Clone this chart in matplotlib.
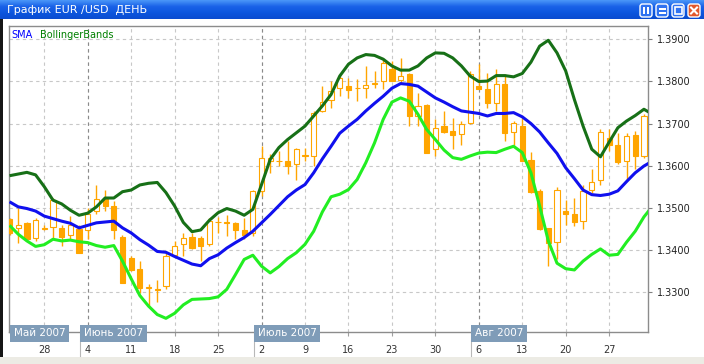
import numpy as np
import pandas as pd
import matplotlib
matplotlib.use("Agg")
import matplotlib.pyplot as plt
from matplotlib.patches import Rectangle, FancyBboxPatch
from matplotlib.colors import LinearSegmentedColormap
from matplotlib.ticker import FormatStrFormatter
from matplotlib.transforms import blended_transform_factory

# EUR/USD daily candles, 22 May - 31 Aug 2007
opens = [1.3472, 1.3452, 1.3464, 1.3429, 1.3450, 1.3455, 1.3452, 1.3434, 1.3450, 1.3448,
         1.3492, 1.3521, 1.3505, 1.3431, 1.3381, 1.3355, 1.3310, 1.3306, 1.3314, 1.3387,
         1.3413, 1.3430, 1.3428, 1.3413, 1.3466, 1.3465, 1.3463, 1.3448, 1.3440, 1.3540,
         1.3611, 1.3612, 1.3612, 1.3603, 1.3624, 1.3624, 1.3730, 1.3757, 1.3784, 1.3789,
         1.3785, 1.3784, 1.3795, 1.3801, 1.3829, 1.3803, 1.3817, 1.3719, 1.3744, 1.3640,
         1.3694, 1.3682, 1.3674, 1.3702, 1.3789, 1.3783, 1.3749, 1.3795, 1.3680, 1.3694,
         1.3613, 1.3540, 1.3452, 1.3418, 1.3492, 1.3484, 1.3468, 1.3543, 1.3566, 1.3666,
         1.3649, 1.3611, 1.3673, 1.3624]
highs = [1.3476, 1.3500, 1.3466, 1.3476, 1.3458, 1.3524, 1.3458, 1.3480, 1.3458, 1.3500,
         1.3555, 1.3543, 1.3516, 1.3436, 1.3385, 1.3373, 1.3318, 1.3328, 1.3393, 1.3421,
         1.3440, 1.3439, 1.3433, 1.3476, 1.3478, 1.3482, 1.3466, 1.3476, 1.3543, 1.3646,
         1.3627, 1.3635, 1.3658, 1.3643, 1.3643, 1.3730, 1.3789, 1.3801, 1.3813, 1.3809,
         1.3805, 1.3837, 1.3825, 1.3853, 1.3849, 1.3856, 1.3821, 1.3773, 1.3746, 1.3710,
         1.3730, 1.3714, 1.3706, 1.3825, 1.3841, 1.3821, 1.3829, 1.3817, 1.3707, 1.3714,
         1.3632, 1.3545, 1.3452, 1.3549, 1.3518, 1.3524, 1.3555, 1.3593, 1.3686, 1.3686,
         1.3678, 1.3678, 1.3682, 1.3722]
lows = [1.3436, 1.3417, 1.3425, 1.3421, 1.3447, 1.3425, 1.3409, 1.3425, 1.3393, 1.3425,
        1.3484, 1.3492, 1.3425, 1.3322, 1.3350, 1.3298, 1.3266, 1.3276, 1.3306, 1.3385,
        1.3385, 1.3402, 1.3373, 1.3409, 1.3440, 1.3433, 1.3425, 1.3425, 1.3433, 1.3528,
        1.3583, 1.3600, 1.3579, 1.3567, 1.3611, 1.3599, 1.3727, 1.3738, 1.3765, 1.3761,
        1.3753, 1.3761, 1.3785, 1.3781, 1.3800, 1.3793, 1.3694, 1.3694, 1.3631, 1.3623,
        1.3678, 1.3639, 1.3650, 1.3698, 1.3781, 1.3738, 1.3730, 1.3658, 1.3650, 1.3611,
        1.3536, 1.3448, 1.3361, 1.3377, 1.3460, 1.3456, 1.3450, 1.3536, 1.3555, 1.3635,
        1.3603, 1.3567, 1.3591, 1.3619]
closes = [1.3440, 1.3460, 1.3426, 1.3470, 1.3451, 1.3518, 1.3431, 1.3458, 1.3393, 1.3484,
          1.3520, 1.3504, 1.3448, 1.3322, 1.3353, 1.3310, 1.3311, 1.3305, 1.3385, 1.3409,
          1.3428, 1.3405, 1.3410, 1.3468, 1.3465, 1.3464, 1.3448, 1.3436, 1.3540, 1.3619,
          1.3619, 1.3611, 1.3600, 1.3639, 1.3625, 1.3726, 1.3751, 1.3777, 1.3809, 1.3780,
          1.3785, 1.3791, 1.3796, 1.3843, 1.3801, 1.3814, 1.3718, 1.3742, 1.3631, 1.3690,
          1.3681, 1.3672, 1.3698, 1.3817, 1.3783, 1.3748, 1.3793, 1.3677, 1.3702, 1.3612,
          1.3538, 1.3450, 1.3417, 1.3541, 1.3484, 1.3466, 1.3540, 1.3561, 1.3680, 1.3648,
          1.3608, 1.3670, 1.3623, 1.3718]

# indicators: one point more than candles, the last one is cut by the frame
bb_upper = [1.3576, 1.3580, 1.3584, 1.3578, 1.3550, 1.3518, 1.3509, 1.3494, 1.3482, 1.3487,
            1.3502, 1.3523, 1.3523, 1.3538, 1.3542, 1.3554, 1.3558, 1.3560, 1.3536, 1.3504,
            1.3465, 1.3443, 1.3447, 1.3470, 1.3488, 1.3498, 1.3492, 1.3482, 1.3496, 1.3555,
            1.3615, 1.3643, 1.3662, 1.3678, 1.3694, 1.3718, 1.3742, 1.3769, 1.3813, 1.3841,
            1.3856, 1.3864, 1.3862, 1.3853, 1.3837, 1.3827, 1.3827, 1.3837, 1.3856, 1.3868,
            1.3867, 1.3856, 1.3837, 1.3813, 1.3800, 1.3801, 1.3814, 1.3814, 1.3811, 1.3819,
            1.3846, 1.3884, 1.3898, 1.3868, 1.3825, 1.3757, 1.3694, 1.3639, 1.3621, 1.3656,
            1.3690, 1.3706, 1.3719, 1.3734, 1.3722]
sma = [1.3514, 1.3502, 1.3498, 1.3492, 1.3480, 1.3474, 1.3468, 1.3463, 1.3452, 1.3458,
       1.3464, 1.3466, 1.3468, 1.3452, 1.3440, 1.3424, 1.3411, 1.3396, 1.3394, 1.3384,
       1.3375, 1.3366, 1.3362, 1.3379, 1.3388, 1.3404, 1.3417, 1.3429, 1.3444, 1.3464,
       1.3484, 1.3505, 1.3526, 1.3542, 1.3555, 1.3583, 1.3616, 1.3646, 1.3677, 1.3694,
       1.3710, 1.3730, 1.3748, 1.3765, 1.3784, 1.3795, 1.3793, 1.3789, 1.3775, 1.3761,
       1.3751, 1.3740, 1.3730, 1.3727, 1.3724, 1.3718, 1.3724, 1.3724, 1.3726, 1.3716,
       1.3700, 1.3680, 1.3654, 1.3629, 1.3595, 1.3569, 1.3542, 1.3531, 1.3529, 1.3532,
       1.3540, 1.3562, 1.3583, 1.3599, 1.3611]
bb_lower = [1.3458, 1.3437, 1.3421, 1.3408, 1.3412, 1.3425, 1.3421, 1.3423, 1.3419, 1.3417,
            1.3410, 1.3406, 1.3410, 1.3373, 1.3331, 1.3291, 1.3266, 1.3246, 1.3237, 1.3249,
            1.3269, 1.3282, 1.3283, 1.3284, 1.3288, 1.3306, 1.3341, 1.3377, 1.3387, 1.3361,
            1.3345, 1.3360, 1.3379, 1.3393, 1.3413, 1.3444, 1.3490, 1.3526, 1.3532, 1.3543,
            1.3567, 1.3607, 1.3654, 1.3710, 1.3751, 1.3761, 1.3753, 1.3722, 1.3686, 1.3662,
            1.3637, 1.3619, 1.3615, 1.3623, 1.3630, 1.3632, 1.3631, 1.3639, 1.3646, 1.3631,
            1.3583, 1.3504, 1.3421, 1.3368, 1.3355, 1.3352, 1.3373, 1.3389, 1.3402, 1.3387,
            1.3389, 1.3418, 1.3444, 1.3478, 1.3504]

price_ticks = [1.33, 1.34, 1.35, 1.36, 1.37, 1.38, 1.39]
month_names = {5: "Май 2007", 6: "Июнь 2007", 7: "Июль 2007", 8: "Авг 2007"}
title = "График EUR /USD  ДЕНЬ"

W, H = 704, 364
ORANGE = "#ffa500"

fig = plt.figure(figsize=(W / 100, H / 100), dpi=100)
fig.patch.set_facecolor("white")

# window chrome, drawn in pixel coords
bg = fig.add_axes([0, 0, 1, 1], zorder=-1)
bg.set_xlim(0, W)
bg.set_ylim(H, 0)
bg.axis("off")
bar_cmap = LinearSegmentedColormap.from_list("xp", ["#4a96f8", "#1a62e8", "#0c56de", "#0a4cd0"])
bg.imshow(np.linspace(0, 1, 40)[:, None], extent=[0, W, 19, 0], cmap=bar_cmap, aspect="auto")
bg.text(7, 9.5, title, color="white", fontsize=8, va="center", ha="left")
for k, bx in enumerate([640, 656, 672, 688]):
    face = "#e2582c" if k == 3 else "#2f72f0"
    bg.add_patch(FancyBboxPatch((bx, 4), 12, 13, boxstyle="round,pad=0,rounding_size=2.5",
                                fc=face, ec="white", lw=1))
    cx, cy = bx + 6, 10.5
    if k == 0:
        bg.add_patch(Rectangle((cx - 3, cy - 3.5), 2, 7, fc="white", ec="none"))
        bg.add_patch(Rectangle((cx + 1, cy - 3.5), 2, 7, fc="white", ec="none"))
    elif k == 1:
        bg.add_patch(Rectangle((cx - 3.5, cy - 3), 7, 2, fc="white", ec="none"))
        bg.add_patch(Rectangle((cx - 3.5, cy + 1), 7, 2, fc="white", ec="none"))
    elif k == 2:
        bg.add_patch(Rectangle((cx - 3.5, cy - 3.5), 7, 7, fc="none", ec="white", lw=1.2))
    else:
        bg.plot([cx - 3, cx + 3], [cy - 3, cy + 3], color="white", lw=1.5)
        bg.plot([cx - 3, cx + 3], [cy + 3, cy - 3], color="white", lw=1.5)
bg.add_patch(Rectangle((0, 19), 2.5, 338, fc="#151515", ec="none"))
bg.add_patch(Rectangle((0, 357), W, 7, fc="#ecebe4", ec="none"))

# chart
ax = fig.add_axes([9 / W, (H - 332) / H, (648 - 9) / W, (332 - 26) / H])
x = np.arange(len(opens))
xi = np.arange(len(sma))
o, h, l, c = map(np.array, (opens, highs, lows, closes))
up = c >= o
body_lo = np.minimum(o, c)
body_h = np.abs(c - o)

ax.vlines(x, l, h, color=ORANGE, lw=1, zorder=2)
ax.bar(x[~up], body_h[~up], bottom=body_lo[~up], width=0.6, color=ORANGE,
       edgecolor=ORANGE, lw=0.8, zorder=3)
ax.bar(x[up], body_h[up], bottom=body_lo[up], width=0.6, facecolor="white",
       edgecolor=ORANGE, lw=0.8, zorder=3)

ax.plot(xi, bb_upper, color="#177017", lw=2.2, zorder=4, solid_capstyle="butt")
ax.plot(xi, sma, color="#1010ee", lw=2.2, zorder=4, solid_capstyle="butt")
ax.plot(xi, bb_lower, color="#22ee22", lw=2.2, zorder=4, solid_capstyle="butt")

ax.set_xlim(-0.06, 73.47)
ax.set_ylim(1.32045, 1.39319)

days = pd.bdate_range("2007-05-22", periods=len(opens))
mondays = np.flatnonzero(days.dayofweek == 0)
ax.set_xticks(mondays)
ax.set_xticklabels([str(d) for d in days.day[mondays]])
ax.set_yticks(price_ticks)
ax.yaxis.set_major_formatter(FormatStrFormatter("%.4f"))

ax.grid(color="#c8c8c8", ls=(0, (3, 3)), lw=0.8, zorder=0)
ax.set_axisbelow(True)

tr = blended_transform_factory(ax.transData, ax.transAxes)
boxes = [(0.5, month_names[days[0].month])]
for m in mondays:
    if m >= 5 and days[m].month != days[m - 5].month:
        ax.axvline(m, color="#8a8a8a", ls=(0, (3, 3)), lw=0.8, zorder=1)
        boxes.append((m - 0.45, month_names[days[m].month]))
for bx, name in boxes:
    ax.text(bx, -0.004, name, transform=tr, fontsize=7.5, color="white", ha="left",
            va="center", zorder=10, clip_on=False,
            bbox=dict(boxstyle="square,pad=0.35", fc="#7f9cb8", ec="none"))
    if bx > 1:
        ax.plot([bx - 0.4, bx - 0.4], [0, -0.08], transform=tr, color="#b8b8b8",
                lw=0.8, clip_on=False)

for s in ax.spines.values():
    s.set_color("#8c8c8c")
    s.set_linewidth(1)
ax.tick_params(axis="y", left=False, labelleft=False, right=True, labelright=True,
               length=3, width=0.8, color="#808080", pad=3.5, labelsize=7,
               labelcolor="#222222")
ax.tick_params(axis="x", length=3, width=0.8, color="#a0a0a0", pad=6.5, labelsize=7,
               labelcolor="#333333")

ax.text(0.0042, 0.972, "SMA", color="#0000ff", fontsize=7, transform=ax.transAxes,
        ha="left", va="center")
ax.text(0.0485, 0.972, "BollingerBands", color="#008000", fontsize=7,
        transform=ax.transAxes, ha="left", va="center")

fig.savefig("out.png", dpi=100)
